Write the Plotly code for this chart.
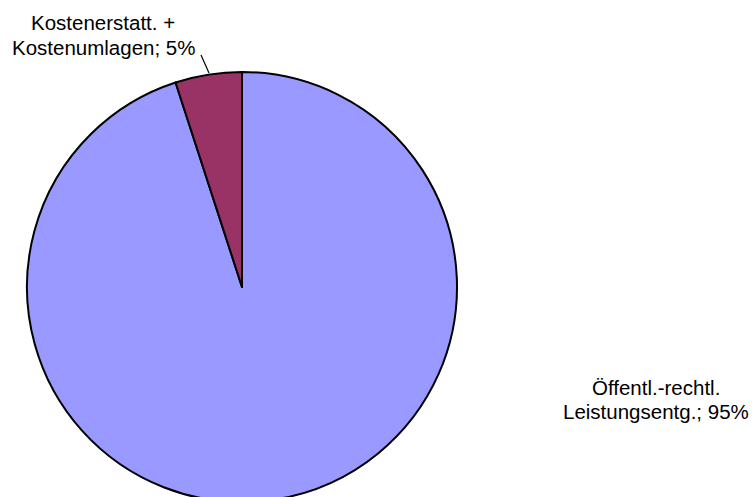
import plotly.graph_objects as go

categories = ["Öffentl.-rechtl. Leistungsentg.", "Kostenerstatt. + Kostenumlagen"]
values = [95, 5]
label_lines = [["Öffentl.-rechtl.", "Leistungsentg.; 95%"], ["Kostenerstatt. +", "Kostenumlagen; 5%"]]
colors = ["#9999FF", "#993366"]

W, H = 755, 520

def px(x):
    return x / W

def py(y):
    return 1 - y / H

fig = go.Figure(go.Pie(
    labels=categories,
    values=values,
    sort=False,
    direction="clockwise",
    rotation=0,
    textinfo="none",
    hoverinfo="label+percent",
    marker=dict(colors=colors, line=dict(color="#000000", width=2)),
    domain=dict(x=[px(27), px(457)], y=[py(502), py(72)]),
    showlegend=False,
))

font = dict(family="Liberation Sans, Arial, sans-serif", size=20.5, color="#000000")

# label positions (pixel centers of each text line)
label_pos = [
    [(656, 387), (656, 411)],
    [(103, 23), (103, 47)],
]
annotations = []
for lines, pos in zip(label_lines, label_pos):
    for text, (x, y) in zip(lines, pos):
        annotations.append(dict(
            x=px(x), y=py(y), xref="paper", yref="paper",
            text=text, showarrow=False, font=font,
            xanchor="center", yanchor="middle",
        ))

fig.update_layout(
    width=W, height=H,
    margin=dict(l=0, r=0, t=0, b=0),
    paper_bgcolor="#FFFFFF",
    plot_bgcolor="#FFFFFF",
    annotations=annotations,
    shapes=[dict(type="line", xref="paper", yref="paper",
                 x0=px(201), y0=py(55), x1=px(209), y1=py(73),
                 line=dict(color="#000000", width=1.2))],
)

fig.write_html(
    "out.html",
    config={"displayModeBar": False},
    post_script="document.documentElement.style.overflow='hidden';document.body.style.overflow='hidden';document.body.style.margin='0';",
)
